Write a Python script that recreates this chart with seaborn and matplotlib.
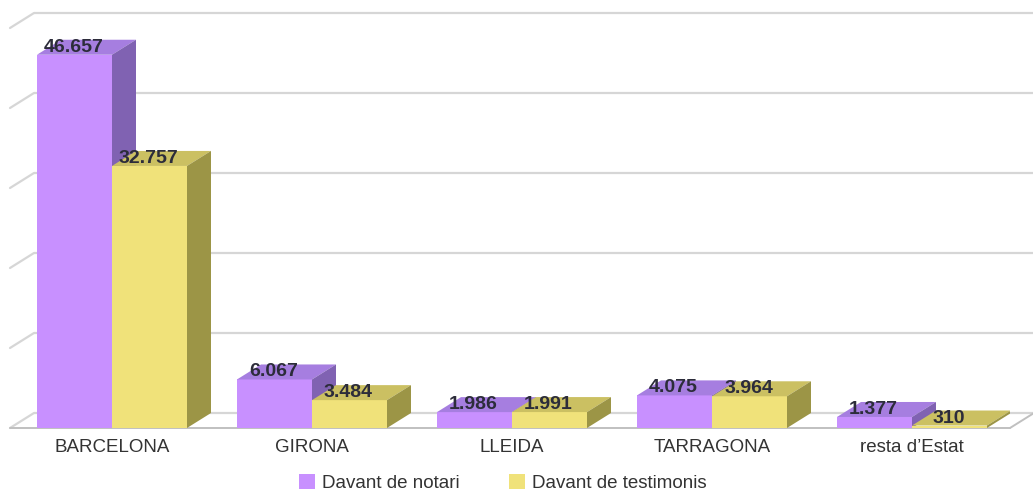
import numpy as np
import pandas as pd
import matplotlib
matplotlib.use("Agg")
import matplotlib.pyplot as plt
import seaborn as sns
from matplotlib.patches import Polygon

# dades
provincies = ["BARCELONA", "GIRONA", "LLEIDA", "TARRAGONA", "resta d’Estat"]
series = ["Davant de notari", "Davant de testimonis"]
notari = [46657, 6067, 1986, 4075, 1377]
testimonis = [32757, 3484, 1991, 3964, 310]

# colors: front, top, side
front_cols = ["#c890ff", "#f0e27a"]
top_cols = ["#a67ee0", "#cbc062"]
side_cols = ["#8062b2", "#9c9546"]

df = pd.DataFrame({
    "provincia": provincies * 2,
    "serie": [series[0]] * len(provincies) + [series[1]] * len(provincies),
    "valor": notari + testimonis,
})

sns.set_style("white")
plt.rcParams["font.family"] = ["Liberation Sans", "DejaVu Sans"]

W, H = 1033, 492
fig = plt.figure(figsize=(W / 100, H / 100), dpi=100)
ax = fig.add_axes([10 / W, 64 / H, 1000 / W, 400 / H])

sns.barplot(data=df, x="provincia", y="valor", hue="serie", hue_order=series,
            palette=front_cols, saturation=1, width=0.75, errorbar=None,
            linewidth=0, ax=ax)

x0, x1 = -0.51, 4.49
ymax = 50000
ax.set_xlim(x0, x1)
ax.set_ylim(0, ymax)

# depth offset of the fake 3D, in pixels -> data units
DX_PX, DY_PX = 24, 15
ddx = DX_PX * (x1 - x0) / 1000
ddy = DY_PX * ymax / 400

# back wall + floor
grid_c = "#d6d6d6"
for v in range(0, ymax + 1, 10000):
    ax.plot([x0 + ddx, x1 + 0.3], [v + ddy, v + ddy], color=grid_c, lw=1.6,
            clip_on=False, zorder=1, solid_capstyle="butt")
    ax.plot([x0, x0 + ddx], [v, v + ddy], color=grid_c, lw=1.6,
            clip_on=False, zorder=1)
ax.plot([x0, x1], [0, 0], color="#c0c0c0", lw=1.4, clip_on=False, zorder=2)
ax.plot([x1, x1 + ddx], [0, ddy], color="#c0c0c0", lw=1.4, clip_on=False, zorder=2)

# top and side faces for each bar
for i in range(len(provincies)):
    for j in range(len(series)):
        bar = ax.containers[j][i]
        bx, bw, bh = bar.get_x(), bar.get_width(), bar.get_height()
        base = 3 + (i * len(series) + j) * 3
        bar.set_zorder(base)
        top = Polygon([(bx, bh), (bx + bw, bh), (bx + bw + ddx, bh + ddy), (bx + ddx, bh + ddy)],
                      closed=True, facecolor=top_cols[j], edgecolor="none", zorder=base + 1)
        side = Polygon([(bx + bw, 0), (bx + bw + ddx, ddy), (bx + bw + ddx, bh + ddy), (bx + bw, bh)],
                       closed=True, facecolor=side_cols[j], edgecolor="none", zorder=base + 2)
        ax.add_patch(top)
        ax.add_patch(side)
        label = f"{int(bh):,}".replace(",", ".")
        ax.annotate(label, (bx + bw / 2, bh), xytext=(-1, 3), textcoords="offset pixels",
                    ha="center", va="baseline", fontsize=14, fontweight="bold",
                    color="#2c2c3a", zorder=100)

for s in ax.spines.values():
    s.set_visible(False)
ax.set_yticks([])
ax.set_xlabel("")
ax.set_ylabel("")
ax.tick_params(axis="x", length=0, pad=8, labelsize=13.5, labelcolor="#333333")

handles, labels = ax.get_legend_handles_labels()
ax.legend(handles, labels, loc="center", bbox_to_anchor=(503 / W, 9 / H),
          bbox_transform=fig.transFigure, ncol=2, frameon=False, fontsize=13.5,
          handlelength=0.85, handleheight=0.85, handletextpad=0.4,
          columnspacing=2.6, borderpad=0, borderaxespad=0, labelcolor="#333333")

fig.savefig("out.png", dpi=100)
